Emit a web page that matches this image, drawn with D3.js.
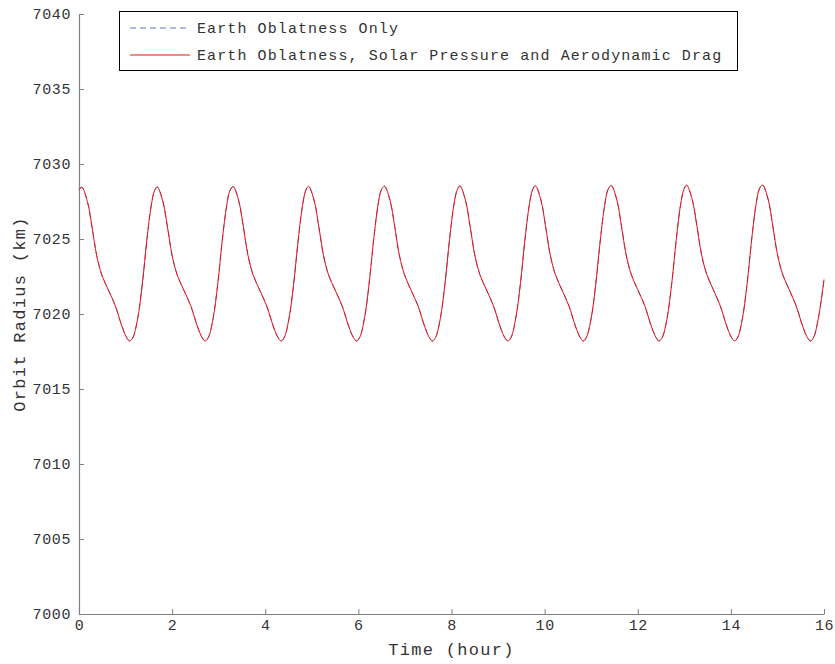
<!DOCTYPE html>
<html>
<head>
<meta charset="utf-8">
<script src="https://cdn.jsdelivr.net/npm/d3@7"></script>
<style>
  body { margin: 0; background: #fff; }
  svg text { font-family: "Liberation Mono", "Courier New", monospace; fill: #333; }
</style>
</head>
<body>
<svg id="chart" width="835" height="664"></svg>
<script>
// time (hour)
const timeHours = [
    0.00,
    0.06, 0.18, 0.28, 0.38, 0.49, 0.63, 0.78, 0.92, 1.02, 1.09, 1.16, 1.26, 1.36, 1.46, 1.55, 1.62,
    1.68, 1.80, 1.90, 2.00, 2.11, 2.25, 2.40, 2.54, 2.64, 2.71, 2.78, 2.88, 2.98, 3.08, 3.17, 3.24,
    3.31, 3.43, 3.53, 3.63, 3.74, 3.88, 4.03, 4.17, 4.27, 4.34, 4.41, 4.51, 4.61, 4.71, 4.80, 4.87,
    4.93, 5.05, 5.15, 5.25, 5.36, 5.50, 5.65, 5.79, 5.89, 5.96, 6.03, 6.13, 6.23, 6.33, 6.42, 6.49,
    6.56, 6.68, 6.78, 6.88, 6.99, 7.13, 7.28, 7.42, 7.52, 7.59, 7.66, 7.76, 7.86, 7.96, 8.05, 8.12,
    8.18, 8.30, 8.40, 8.50, 8.61, 8.75, 8.90, 9.04, 9.14, 9.21, 9.28, 9.38, 9.48, 9.58, 9.67, 9.74,
    9.80, 9.92, 10.02, 10.12, 10.23, 10.37, 10.52, 10.66, 10.76, 10.83, 10.90, 11.00, 11.10, 11.20, 11.29, 11.36,
    11.43, 11.55, 11.65, 11.75, 11.86, 12.00, 12.15, 12.29, 12.39, 12.46, 12.53, 12.63, 12.73, 12.83, 12.92, 12.99,
    13.05, 13.17, 13.27, 13.37, 13.48, 13.62, 13.77, 13.91, 14.01, 14.08, 14.15, 14.25, 14.35, 14.45, 14.54, 14.61,
    14.68, 14.80, 14.90, 15.00, 15.11, 15.25, 15.40, 15.54, 15.64, 15.71, 15.78, 15.88, 15.98, 16.00
];

// orbit radius (km), earth oblateness only
const radiusOblateness = [
    7028.30,
    7028.45, 7027.50, 7025.80, 7023.90, 7022.60, 7021.60, 7020.55, 7019.20, 7018.45, 7018.20, 7018.45, 7019.70, 7022.00, 7025.00, 7027.20, 7028.20,
    7028.47, 7027.52, 7025.80, 7023.90, 7022.60, 7021.60, 7020.55, 7019.20, 7018.45, 7018.20, 7018.45, 7019.70, 7022.00, 7025.00, 7027.20, 7028.22,
    7028.50, 7027.55, 7025.82, 7023.90, 7022.60, 7021.60, 7020.55, 7019.20, 7018.45, 7018.20, 7018.45, 7019.70, 7022.00, 7025.00, 7027.22, 7028.24,
    7028.51, 7027.56, 7025.82, 7023.92, 7022.60, 7021.60, 7020.55, 7019.20, 7018.45, 7018.20, 7018.45, 7019.70, 7022.00, 7025.00, 7027.22, 7028.25,
    7028.52, 7027.57, 7025.84, 7023.92, 7022.62, 7021.60, 7020.55, 7019.20, 7018.45, 7018.20, 7018.45, 7019.70, 7022.02, 7025.02, 7027.24, 7028.26,
    7028.54, 7027.58, 7025.84, 7023.94, 7022.62, 7021.62, 7020.55, 7019.20, 7018.45, 7018.20, 7018.45, 7019.72, 7022.02, 7025.02, 7027.25, 7028.27,
    7028.55, 7027.60, 7025.86, 7023.94, 7022.64, 7021.62, 7020.56, 7019.20, 7018.45, 7018.20, 7018.46, 7019.72, 7022.04, 7025.04, 7027.26, 7028.29,
    7028.57, 7027.62, 7025.86, 7023.96, 7022.64, 7021.62, 7020.56, 7019.20, 7018.45, 7018.20, 7018.46, 7019.72, 7022.04, 7025.04, 7027.28, 7028.30,
    7028.58, 7027.63, 7025.88, 7023.96, 7022.66, 7021.64, 7020.56, 7019.20, 7018.45, 7018.20, 7018.46, 7019.74, 7022.06, 7025.06, 7027.29, 7028.32,
    7028.60, 7027.65, 7025.88, 7023.98, 7022.66, 7021.64, 7020.56, 7019.20, 7018.45, 7018.20, 7018.46, 7019.74, 7021.80, 7022.30
];

// with solar pressure and aerodynamic drag, indistinguishable at this scale
const radiusAllPerturbations = [
    7028.30,
    7028.45, 7027.50, 7025.80, 7023.90, 7022.60, 7021.60, 7020.55, 7019.20, 7018.45, 7018.20, 7018.45, 7019.70, 7022.00, 7025.00, 7027.20, 7028.20,
    7028.47, 7027.52, 7025.80, 7023.90, 7022.60, 7021.60, 7020.55, 7019.20, 7018.45, 7018.20, 7018.45, 7019.70, 7022.00, 7025.00, 7027.20, 7028.22,
    7028.50, 7027.55, 7025.82, 7023.90, 7022.60, 7021.60, 7020.55, 7019.20, 7018.45, 7018.20, 7018.45, 7019.70, 7022.00, 7025.00, 7027.22, 7028.24,
    7028.51, 7027.56, 7025.82, 7023.92, 7022.60, 7021.60, 7020.55, 7019.20, 7018.45, 7018.20, 7018.45, 7019.70, 7022.00, 7025.00, 7027.22, 7028.25,
    7028.52, 7027.57, 7025.84, 7023.92, 7022.62, 7021.60, 7020.55, 7019.20, 7018.45, 7018.20, 7018.45, 7019.70, 7022.02, 7025.02, 7027.24, 7028.26,
    7028.54, 7027.58, 7025.84, 7023.94, 7022.62, 7021.62, 7020.55, 7019.20, 7018.45, 7018.20, 7018.45, 7019.72, 7022.02, 7025.02, 7027.25, 7028.27,
    7028.55, 7027.60, 7025.86, 7023.94, 7022.64, 7021.62, 7020.56, 7019.20, 7018.45, 7018.20, 7018.46, 7019.72, 7022.04, 7025.04, 7027.26, 7028.29,
    7028.57, 7027.62, 7025.86, 7023.96, 7022.64, 7021.62, 7020.56, 7019.20, 7018.45, 7018.20, 7018.46, 7019.72, 7022.04, 7025.04, 7027.28, 7028.30,
    7028.58, 7027.63, 7025.88, 7023.96, 7022.66, 7021.64, 7020.56, 7019.20, 7018.45, 7018.20, 7018.46, 7019.74, 7022.06, 7025.06, 7027.29, 7028.32,
    7028.60, 7027.65, 7025.88, 7023.98, 7022.66, 7021.64, 7020.56, 7019.20, 7018.45, 7018.20, 7018.46, 7019.74, 7021.80, 7022.30
];

const xTicks = [0, 2, 4, 6, 8, 10, 12, 14, 16];
const yTicks = [7000, 7005, 7010, 7015, 7020, 7025, 7030, 7035, 7040];
const legendLabels = ['Earth Oblatness Only', 'Earth Oblatness, Solar Pressure and Aerodynamic Drag'];

const margin = {top: 14, right: 11, bottom: 50, left: 79};
const width = 835 - margin.left - margin.right;
const height = 664 - margin.top - margin.bottom;

const svg = d3.select('#chart');
const g = svg.append('g')
    .attr('transform', `translate(${margin.left},${margin.top})`);

const x = d3.scaleLinear().domain([0, 16]).range([0, width]);
const y = d3.scaleLinear().domain([7000, 7040]).range([height, 0]);

// axes, matlab style: ticks inside
const xAxis = g.append('g')
    .attr('transform', `translate(0,${height})`)
    .call(d3.axisBottom(x).tickValues(xTicks).tickFormat(d3.format('d'))
        .tickSizeInner(-5).tickSizeOuter(0).tickPadding(8));

const yAxis = g.append('g')
    .call(d3.axisLeft(y).tickValues(yTicks).tickFormat(d3.format('d'))
        .tickSizeInner(-5).tickSizeOuter(0).tickPadding(8));

[xAxis, yAxis].forEach(ax => {
    ax.select('.domain').attr('stroke', '#808080').attr('stroke-width', 1.2);
    ax.selectAll('.tick line').attr('stroke', '#808080');
    ax.selectAll('.tick text')
        .style('font-size', '15px')
        .style('letter-spacing', '0.6px')
        .attr('fill', '#333');
});
xAxis.selectAll('.tick text').attr('dy', '0.5em');

const line = d3.line()
    .x((d, i) => x(timeHours[i]))
    .y(d => y(d))
    .curve(d3.curveCatmullRom.alpha(0.5));

g.append('path')
    .datum(radiusOblateness)
    .attr('fill', 'none')
    .attr('stroke', '#5d73cc')
    .attr('stroke-width', 1)
    .attr('stroke-dasharray', '6,4')
    .attr('d', line);

g.append('path')
    .datum(radiusAllPerturbations)
    .attr('fill', 'none')
    .attr('stroke', '#ee1111')
    .attr('stroke-width', 1)
    .attr('d', line);

// axis titles
svg.append('text')
    .attr('x', margin.left + width / 2)
    .attr('y', 655)
    .attr('text-anchor', 'middle')
    .style('font-size', '17px')
    .style('letter-spacing', '1.3px')
    .text('Time (hour)');

svg.append('text')
    .attr('transform', `translate(25,${margin.top + height / 2}) rotate(-90)`)
    .attr('text-anchor', 'middle')
    .style('font-size', '17px')
    .style('letter-spacing', '1.3px')
    .text('Orbit Radius (km)');

// legend
const legend = svg.append('g');
legend.append('rect')
    .attr('x', 119.5)
    .attr('y', 11.5)
    .attr('width', 618)
    .attr('height', 59)
    .attr('fill', '#fff')
    .attr('stroke', '#000')
    .attr('stroke-width', 1);

const legendStyles = [
    {color: '#5d73cc', dash: '6,4'},
    {color: '#ee1111', dash: null}
];

legendLabels.forEach((label, i) => {
    const ly = 28 + i * 27;
    legend.append('line')
        .attr('x1', 130)
        .attr('x2', 190)
        .attr('y1', ly)
        .attr('y2', ly)
        .attr('stroke', legendStyles[i].color)
        .attr('stroke-dasharray', legendStyles[i].dash);
    legend.append('text')
        .attr('x', 197)
        .attr('y', ly)
        .attr('dy', '0.35em')
        .style('font-size', '15px')
        .style('letter-spacing', '1.1px')
        .text(label);
});
</script>
</body>
</html>
